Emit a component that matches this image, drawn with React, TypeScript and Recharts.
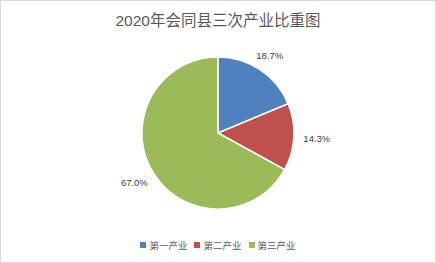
import React from 'react';
import { PieChart, Pie, Cell } from 'recharts';

const categories = ['第一产业', '第二产业', '第三产业'];
const shares = [18.7, 14.3, 67.0];
const colors = ['#4f81bd', '#c0504d', '#9bbb59'];
const title = '2020年会同县三次产业比重图';

const data = categories.map((name, i) => ({ name, value: shares[i] }));

const RADIAN = Math.PI / 180;
const FONT = '"Liberation Sans", "Noto Sans CJK SC", sans-serif';

const renderLabel = (props: any) => {
  const { cx, cy, midAngle, outerRadius, value } = props;
  const cos = Math.cos(-midAngle * RADIAN);
  const sin = Math.sin(-midAngle * RADIAN);
  const r = outerRadius + 10 + 13 * Math.abs(cos);
  return (
    <text
      x={cx + r * cos}
      y={cy + r * sin}
      textAnchor="middle"
      dominantBaseline="central"
      fill="#404040"
      fontSize={9.5}
      fontFamily={FONT}
    >
      {`${value.toFixed(1)}%`}
    </text>
  );
};

const App: React.FC = () => {
  return (
    <div
      style={{
        position: 'absolute',
        top: 0,
        left: 0,
        width: 436,
        height: 263,
        boxSizing: 'border-box',
        border: '1px solid #d9d9d9',
        background: '#fff',
        fontFamily: FONT,
      }}
    >
      {/* Title */}
      <div
        style={{
          position: 'absolute',
          top: 7,
          left: 0,
          width: '100%',
          textAlign: 'center',
          fontSize: 15.5,
          color: '#595959',
        }}
      >
        {title}
      </div>

      <div style={{ position: 'absolute', top: -1, left: -1 }}>
        <PieChart width={436} height={263} margin={{ top: 0, right: 0, bottom: 0, left: 0 }}>
          <Pie
            data={data}
            dataKey="value"
            nameKey="name"
            cx={218}
            cy={133}
            outerRadius={76}
            startAngle={90}
            endAngle={-270}
            stroke="#fff"
            strokeWidth={1.5}
            label={renderLabel}
            labelLine={false}
            isAnimationActive={false}
          >
            {data.map((d, i) => (
              <Cell key={d.name} fill={colors[i]} />
            ))}
          </Pie>
        </PieChart>
      </div>

      {/* Legend */}
      <div
        style={{
          position: 'absolute',
          top: 237,
          left: 0,
          width: '100%',
          display: 'flex',
          justifyContent: 'center',
          gap: 7,
          fontSize: 9.5,
          color: '#595959',
        }}
      >
        {categories.map((c, i) => (
          <span key={c} style={{ display: 'flex', alignItems: 'center' }}>
            <span
              style={{
                display: 'inline-block',
                width: 6,
                height: 6,
                background: colors[i],
                marginRight: 3,
              }}
            />
            {c}
          </span>
        ))}
      </div>
    </div>
  );
};

export default App;
